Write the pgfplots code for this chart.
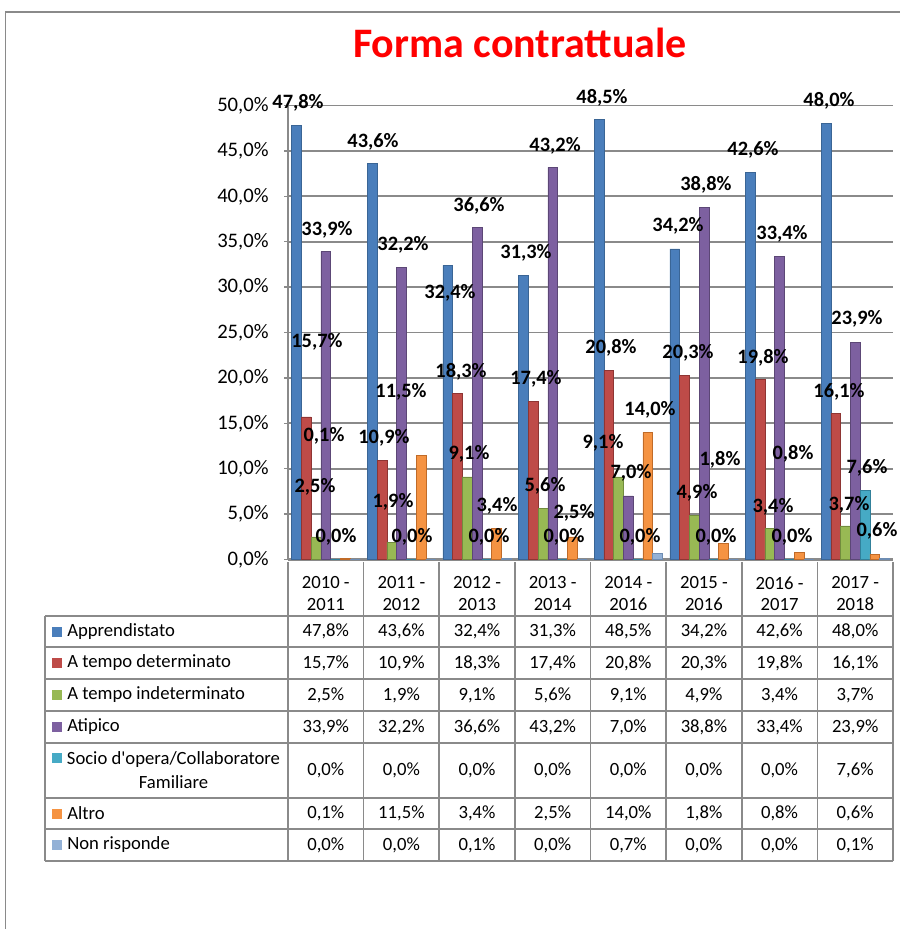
\documentclass[border=0pt]{standalone}
\usepackage{fontspec}
\setmainfont{Carlito}
\usepackage{pgfplots}
\usepackage{pgfplotstable}
\pgfplotsset{compat=1.18}
\definecolor{cA}{HTML}{4A7EBB}\definecolor{cAd}{HTML}{3A6595}
\definecolor{cB}{HTML}{BE4B48}\definecolor{cBd}{HTML}{8E3533}
\definecolor{cC}{HTML}{98B954}\definecolor{cCd}{HTML}{718C3D}
\definecolor{cD}{HTML}{7D60A0}\definecolor{cDd}{HTML}{5C4776}
\definecolor{cE}{HTML}{46AAC5}\definecolor{cEd}{HTML}{31809A}
\definecolor{cF}{HTML}{F59342}\definecolor{cFd}{HTML}{C06B28}
\definecolor{cG}{HTML}{93B1D6}\definecolor{cGd}{HTML}{6E8DB3}
\definecolor{gridgray}{HTML}{8A8A8A}
\definecolor{titlered}{HTML}{FF0000}

\pgfplotstableread{
x A B C D E F G
0 47.8 15.7 2.5 33.9 0.0 0.1 0.0
1 43.6 10.9 1.9 32.2 0.0 11.5 0.0
2 32.4 18.3 9.1 36.6 0.0 3.4 0.1
3 31.3 17.4 5.6 43.2 0.0 2.5 0.0
4 48.5 20.8 9.1 7.0 0.0 14.0 0.7
5 34.2 20.3 4.9 38.8 0.0 1.8 0.0
6 42.6 19.8 3.4 33.4 0.0 0.8 0.0
7 48.0 16.1 3.7 23.9 7.6 0.6 0.1
}\data

\pgfplotstableread{
x y lab
-0.368 50.28 47,8
0.016 36.29 33,9
-0.117 23.95 15,7
-0.024 13.60 0,1
-0.143 7.98 2,5
0.135 2.48 0,0
0.624 45.98 43,6
1.021 34.64 32,2
0.994 18.45 11,5
0.769 13.38 10,9
0.888 6.33 1,9
1.140 2.48 0,0
2.026 38.93 36,6
1.642 29.35 32,4
1.788 20.65 18,3
1.893 11.62 9,1
2.264 5.89 3,4
2.158 2.48 0,0
3.031 45.54 43,2
2.647 33.76 31,3
2.779 19.88 17,4
2.898 8.09 5,6
3.282 5.12 2,5
3.150 2.48 0,0
3.652 50.83 48,5
3.771 23.29 20,8
4.287 16.46 14,0
3.665 12.83 9,1
4.036 9.53 7,0
4.155 2.48 0,0
4.657 36.73 34,2
5.027 41.24 38,8
4.789 22.74 20,3
5.212 10.96 1,8
4.908 7.32 4,9
5.160 2.48 0,0
5.649 45.10 42,6
6.032 35.85 33,4
5.781 22.19 19,8
6.178 11.62 0,8
5.913 5.78 3,4
6.164 2.48 0,0
6.654 50.50 48,0
7.024 26.49 23,9
6.786 18.45 16,1
7.156 10.08 7,6
6.918 6.00 3,7
7.288 3.14 0,6
}\labels

\newcommand{\tabfont}{\fontsize{14}{15.75}\selectfont}

\begin{document}
\begin{tikzpicture}
\begin{scope}[x=0.75pt,y=-0.75pt]
\path[use as bounding box] (0,0) rectangle (900,929);
\draw[gridgray, line width=1.1pt] (5.5,929) -- (5.5,12) -- (900,12);
\node[anchor=base, inner sep=0, text=titlered, font=\fontsize{31.5}{36}\selectfont\bfseries] at (520,57) {Forma contrattuale};
\end{scope}

\begin{axis}[
  at={(216pt,-419.625pt)}, anchor=south west,
  scale only axis, width=453.75pt, height=340.5pt,
  xmin=-0.5, xmax=7.5, ymin=0, ymax=50,
  axis x line*=bottom, axis y line*=left,
  axis line style={draw=gridgray, line width=1.6pt},
  xtick=\empty,
  ytick={0,5,...,50},
  ymajorgrids, grid style={draw=gridgray, line width=1.3pt},
  tick align=outside, major tick length=3pt,
  y tick style={draw=gridgray, line width=1pt},
  /pgf/number format/assume math mode=true,
  yticklabel={\pgfmathprintnumber[fixed,fixed zerofill,precision=1,use comma]{\tick}\%},
  tick label style={font=\fontsize{15.5}{18}\selectfont},
  yticklabel style={xshift=-8pt},
  clip=false,
]
\addplot[ybar, bar width=7.3pt, bar shift=-21.9pt, fill=cA, draw=cAd, line width=0.4pt] table[x=x,y=A]{\data};
\addplot[ybar, bar width=7.3pt, bar shift=-14.6pt, fill=cB, draw=cBd, line width=0.4pt] table[x=x,y=B]{\data};
\addplot[ybar, bar width=7.3pt, bar shift=-7.3pt, fill=cC, draw=cCd, line width=0.4pt] table[x=x,y=C]{\data};
\addplot[ybar, bar width=7.3pt, bar shift=0pt, fill=cD, draw=cDd, line width=0.4pt] table[x=x,y=D]{\data};
\addplot[ybar, bar width=7.3pt, bar shift=7.3pt, fill=cE, draw=cEd, line width=0.4pt] table[x=x,y=E]{\data};
\addplot[ybar, bar width=7.3pt, bar shift=14.6pt, fill=cF, draw=cFd, line width=0.4pt] table[x=x,y=F]{\data};
\addplot[ybar, bar width=7.3pt, bar shift=21.9pt, fill=cG, draw=cGd, line width=0.4pt] table[x=x,y=G]{\data};
\addplot[only marks, mark=none, point meta=explicit symbolic,
  nodes near coords={\pgfplotspointmeta\%},
  nodes near coords style={anchor=center, inner sep=0pt, font=\fontsize{15.3}{18}\selectfont\bfseries, text=black}]
  table[x=x,y=y,meta=lab]{\labels};
\end{axis}

\begin{scope}[x=0.75pt,y=-0.75pt]
\foreach \yy in {616,647,679,711,743,798,829,861}
  \draw[gridgray, line width=1.3pt] (45,\yy) -- (893,\yy);
\draw[gridgray, line width=1.3pt] (45,616) -- (45,861);
\foreach \i in {0,...,8}
  \draw[gridgray, line width=1.3pt] ({288+75.625*\i},562) -- ({288+75.625*\i},861);
\foreach \lab [count=\i from 0] in {{2010 -\\2011},{2011 -\\2012},{2012 -\\2013},{2013 -\\2014},{2014 -\\2016},{2015 -\\2016},{2016 -\\2017},{2017 -\\2018}}
  \node[align=center, inner sep=0, font=\fontsize{14}{16}\selectfont] at ({288+75.625*(\i+0.5)},593.5) {\lab};
% row labels and keys
\foreach \nm/\cc/\cy in {Apprendistato/cA/631.5, A tempo determinato/cB/663, A tempo indeterminato/cC/695, Atipico/cD/727, Altro/cF/813.5, Non risponde/cG/845}{
  \fill[\cc] (52,\cy-5) rectangle (62,\cy+5);
  \node[anchor=west, inner sep=0, font=\tabfont] at (67,\cy) {\nm};
}
\fill[cE] (52,753) rectangle (62,763);
\node[align=center, inner sep=0, font=\fontsize{14}{18}\selectfont] at (173.5,770.5) {Socio d\textquotesingle opera/Collaboratore\\Familiare};
% values
\foreach \col/\cy in {A/631.5,B/663,C/695,D/727,E/770.5,F/813.5,G/845}{
  \foreach \r in {0,...,7}{
    \pgfplotstablegetelem{\r}{\col}\of\data
    \node[inner sep=0, font=\tabfont] at ({288+75.625*(\r+0.5)},\cy) {\pgfmathprintnumber[fixed,fixed zerofill,precision=1,use comma,assume math mode=true]{\pgfplotsretval}\%};
  }
}
\end{scope}
\end{tikzpicture}
\end{document}
